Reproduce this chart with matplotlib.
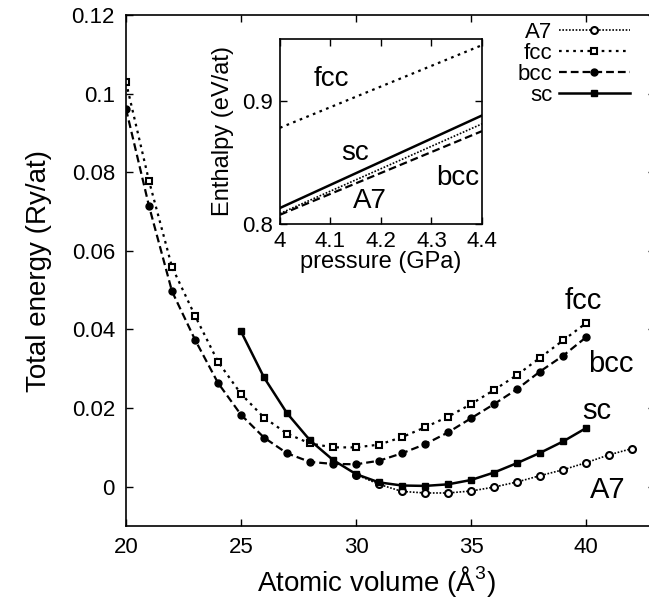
import numpy as np
import matplotlib
matplotlib.use('Agg')
import matplotlib.pyplot as plt
from matplotlib.ticker import FuncFormatter

plt.rcParams['font.family'] = ['Liberation Sans', 'DejaVu Sans']
plt.rcParams['mathtext.fontset'] = 'custom'
plt.rcParams['mathtext.rm'] = 'Liberation Sans'

# total energy vs atomic volume (Ry/at)
vol_fb = [20, 21, 22, 23, 24, 25, 26, 27, 28, 29, 30,
          31, 32, 33, 34, 35, 36, 37, 38, 39, 40]
e_fcc = [0.1029, 0.0778, 0.0559, 0.0435, 0.0318, 0.0236, 0.0176, 0.0135, 0.0110, 0.0100, 0.0100,
         0.0107, 0.0126, 0.0151, 0.0178, 0.0210, 0.0246, 0.0284, 0.0328, 0.0372, 0.0416]
e_bcc = [0.0961, 0.0714, 0.0497, 0.0374, 0.0264, 0.0183, 0.0125, 0.0085, 0.0063, 0.0058, 0.0057,
         0.0066, 0.0085, 0.0108, 0.0138, 0.0174, 0.0210, 0.0248, 0.0293, 0.0333, 0.0380]
vol_sc = [25, 26, 27, 28, 29, 30, 31, 32, 33, 34, 35, 36, 37, 38, 39, 40]
e_sc = [0.0395, 0.0278, 0.0187, 0.0118, 0.0068, 0.0032, 0.0011, 0.0003,
        0.0002, 0.0006, 0.0017, 0.0036, 0.0060, 0.0086, 0.0115, 0.0149]
vol_a7 = [30, 31, 32, 33, 34, 35, 36, 37, 38, 39, 40, 41, 42]
e_a7 = [0.0031, 0.0006, -0.0012, -0.0016, -0.0016, -0.0011, -0.0001,
        0.0012, 0.0028, 0.0043, 0.0061, 0.0081, 0.0097]

# inset: enthalpy vs pressure (eV/at), straight lines between the end points
p_ins = [4.0, 4.4]
h_fcc = [0.878, 0.945]
h_sc = [0.813, 0.888]
h_a7 = [0.8085, 0.8812]
h_bcc = [0.8075, 0.8753]

sty = {
    'A7':  dict(ls=(0, (1, 1)), lw=1.2),
    'fcc': dict(ls=(0, (1.2, 2.0)), lw=1.6),
    'bcc': dict(ls=(0, (3.5, 1.8)), lw=1.6),
    'sc':  dict(ls='-', lw=1.8),
}

fig = plt.figure(figsize=(6.49, 5.99), dpi=100)
ax = fig.add_axes([126 / 649, 73 / 599, 529 / 649, 511 / 599])

ax.plot(vol_a7, e_a7, color='k', marker='o', ms=5, mfc='white', mew=1.5, label='A7', **sty['A7'])
ax.plot(vol_fb, e_fcc, color='k', marker='s', ms=5, mfc='white', mew=1.5, label='fcc', **sty['fcc'])
ax.plot(vol_fb, e_bcc, color='k', marker='o', ms=5, label='bcc', **sty['bcc'])
ax.plot(vol_sc, e_sc, color='k', marker='s', ms=5, label='sc', **sty['sc'])

ax.set_xlim(20, 43)
ax.set_ylim(-0.01, 0.12)
ax.set_xticks([20, 25, 30, 35, 40])
ax.set_yticks([0, 0.02, 0.04, 0.06, 0.08, 0.1, 0.12])
ax.yaxis.set_major_formatter(FuncFormatter(lambda v, p: '%g' % round(v, 3)))
ax.tick_params(direction='in', top=True, right=True, length=5, width=1, labelsize=16, pad=8)
for s in ax.spines.values():
    s.set_linewidth(1.2)
ax.set_xlabel('Atomic volume (Å$^3$)', fontsize=20)
ax.xaxis.set_label_coords(0.473, -0.074)
ax.set_ylabel('Total energy (Ry/at)', fontsize=20, labelpad=14)

ax.text(39.9, 0.0453, 'fcc', fontsize=21, ha='center', va='baseline')
ax.text(41.1, 0.0291, 'bcc', fontsize=21, ha='center', va='baseline')
ax.text(40.46, 0.0172, 'sc', fontsize=21, ha='center', va='baseline')
ax.text(40.93, -0.0028, 'A7', fontsize=21, ha='center', va='baseline')

leg = ax.legend(loc='upper right', bbox_to_anchor=(630 / 649, 577 / 599),
                bbox_transform=fig.transFigure, frameon=False, markerfirst=False,
                numpoints=1, handlelength=3.2, handletextpad=0.3, labelspacing=0.0,
                borderpad=0, borderaxespad=0, fontsize=16)

# inset
axi = fig.add_axes([280 / 649, 375 / 599, 202 / 649, 185 / 599])
axi.plot(p_ins, h_fcc, color='k', **sty['fcc'])
axi.plot(p_ins, h_sc, color='k', **sty['sc'])
axi.plot(p_ins, h_a7, color='k', **sty['A7'])
axi.plot(p_ins, h_bcc, color='k', **sty['bcc'])
axi.set_xlim(4.0, 4.4)
axi.set_ylim(0.8, 0.95)
axi.set_xticks([4.0, 4.1, 4.2, 4.3, 4.4])
axi.set_yticks([0.8, 0.9])
axi.xaxis.set_major_formatter(FuncFormatter(lambda v, p: '%g' % round(v, 2)))
axi.yaxis.set_major_formatter(FuncFormatter(lambda v, p: '%g' % round(v, 2)))
axi.tick_params(direction='in', top=True, right=True, length=5, width=1, labelsize=16, pad=5)
for s in axi.spines.values():
    s.set_linewidth(1.2)
axi.set_xlabel('pressure (GPa)', fontsize=17, labelpad=-1)
axi.set_ylabel('Enthalpy (eV/at)', fontsize=17, labelpad=6)

axi.text(4.101, 0.912, 'fcc', fontsize=20, ha='center', va='baseline')
axi.text(4.149, 0.8516, 'sc', fontsize=20, ha='center', va='baseline')
axi.text(4.353, 0.8315, 'bcc', fontsize=20, ha='center', va='baseline')
axi.text(4.177, 0.8126, 'A7', fontsize=20, ha='center', va='baseline')

fig.savefig('out.png', dpi=100)
